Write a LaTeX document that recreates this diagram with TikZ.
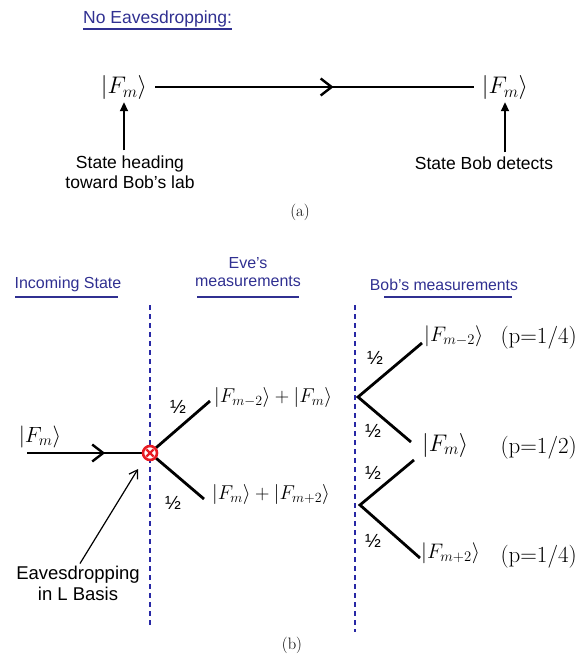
\RequirePackage{fix-cm}
\documentclass[tikz,border=0pt]{standalone}
\usepackage{fontspec}
\setsansfont{Liberation Sans}
\usetikzlibrary{arrows.meta,decorations.markings}
\definecolor{hdblue}{RGB}{48,48,145}
\definecolor{dashblue}{RGB}{40,40,165}
\definecolor{xred}{RGB}{232,28,36}
\begin{document}
\begin{tikzpicture}[x=1pt,y=-1pt,
  lbl/.style={font=\fontsize{17.5}{20}\selectfont\sffamily, text=black, inner sep=0, align=center},
  head/.style={font=\fontsize{16}{18.5}\selectfont\sffamily, text=hdblue, inner sep=0, align=center},
  uline/.style={hdblue, line width=1.4pt},
  kt/.style={inner sep=0, font=\fontsize{#1}{#1}\selectfont},
  prob/.style={inner sep=0, font=\fontsize{23}{23}\selectfont},
  half/.style={inner sep=0, font=\fontsize{19}{19}\selectfont\sffamily},
  captxt/.style={inner sep=0, font=\fontsize{16.5}{16.5}\selectfont},
  bline/.style={line width=2.8pt, black},
  midarrow/.style={postaction={decorate}, decoration={markings,
      mark=at position #1 with {\arrow{Straight Barb[length=11pt,width=17pt,line width=2.4pt]}}}},
  uparr/.style={line width=1.8pt, -{Triangle[length=9pt,width=8pt]}},
  thinarr/.style={line width=1.2pt, -{Straight Barb[length=8pt,width=10pt]}},
  vdash/.style={dashblue, line width=2.6pt, dash pattern=on 5pt off 4pt},
]
\path[use as bounding box] (0,0) rectangle (583,666);

% ---------- (a) ----------
\node[head, font=\fontsize{17.5}{19}\selectfont\sffamily, anchor=base west] (noe) at (83,24) {No Eavesdropping:};
\draw[uline] ([yshift=-5pt]noe.base west) -- ([yshift=-5pt]noe.base east);

\node[kt=24] (k1) at (124,88) {$|F_m\rangle$};
\node[kt=24] (k2) at (505,88) {$|F_m\rangle$};
\draw[bline, midarrow=0.56] ([xshift=8pt,yshift=1pt]k1.east) -- ([xshift=-8pt,yshift=1pt]k2.west);

\node[lbl] (t1) at (130,172) {State heading\\toward Bob's lab};
\node[lbl] (t2) at (484,163) {State Bob detects};
\draw[uparr] ([yshift=5pt]t1.north -| k1.south) -- ([yshift=-2pt]k1.south);
\draw[uparr] ([yshift=4pt]t2.north -| k2.south) -- ([yshift=-2pt]k2.south);

\node[captxt] (ca) at (300,212) {(a)};

% ---------- (b) ----------
\node[head] (hin) at (68,284) {Incoming State};
\draw[uline] (15,297) -- (118,297);
\node[head] (hev) at (248,272) {Eve's\\measurements};
\draw[uline] (197,297) -- (299,297);
\node[head, font=\fontsize{15.8}{18}\selectfont\sffamily] (hbo) at (444,285) {Bob's measurements};
\draw[uline] (384,297) -- (512,297);

\draw[vdash] (150,305) -- (150,626);
\draw[vdash] (355,305) -- (355,632);

% incoming
\node[kt=22] (kin) at (40,437) {$|F_m\rangle$};
\coordinate (inst) at (27,453);
\node[line width=2.6pt, circle, minimum size=13.5pt, inner sep=0] (ev) at (150,453) {};
\draw[bline, midarrow=0.68] (inst) -- (ev.west);

% Eve branches
\coordinate (eu) at (210,401);
\coordinate (ed) at (204,499);
\draw[bline] (ev) -- (eu);
\draw[bline] (ev) -- (ed);
\draw[xred, line width=2.6pt, fill=white] (ev.center) circle[radius=7pt];
\draw[xred, line width=2.2pt] ([shift={(-3.6pt,-3.6pt)}]ev.center) -- ([shift={(3.6pt,3.6pt)}]ev.center);
\draw[xred, line width=2.2pt] ([shift={(-3.6pt,3.6pt)}]ev.center) -- ([shift={(3.6pt,-3.6pt)}]ev.center);
\node[half] (h1) at (178,407) {½};
\node[half] (h2) at (173,503) {½};
\node[kt=20, anchor=west] (e1) at (214,397) {$|F_{m-2}\rangle+|F_m\rangle$};
\node[kt=20, anchor=west] (e2) at (212,494) {$|F_m\rangle+|F_{m+2}\rangle$};

% eavesdropping arrow
\node[lbl, font=\fontsize{18.5}{21}\selectfont\sffamily] (eav) at (78,583) {Eavesdropping\\in L Basis};
\coordinate (eavtip) at (138,469);
\draw[thinarr] ([xshift=2pt,yshift=2pt]eav.north) -- (eavtip);

% Bob forks
\coordinate (bu) at (358,397);
\coordinate (bd) at (360,505);
\coordinate (bu1) at (422,343);
\coordinate (bu2) at (411,442);
\coordinate (bd1) at (414,460);
\coordinate (bd2) at (420,558);
\draw[bline] (bu1) -- (bu) -- (bu2);
\draw[bline] (bd1) -- (bd) -- (bd2);
\node[half] (h3) at (375,358) {½};
\node[half] (h4) at (373,431) {½};
\node[half] (h5) at (373,473) {½};
\node[half] (h6) at (373,541) {½};

\node[kt=21, anchor=west] (b1) at (424,336) {$|F_{m-2}\rangle$};
\node[kt=24, anchor=west] (b2) at (422,445) {$|F_m\rangle$};
\node[kt=21, anchor=west] (b3) at (421,553) {$|F_{m+2}\rangle$};
\node[prob, anchor=base east] (p1) at (577,343) {(p=1/4)};
\node[prob, anchor=base east] (p2) at (577,453) {(p=1/2)};
\node[prob, anchor=base east] (p3) at (577,562) {(p=1/4)};

\node[captxt] (cb) at (292,645) {(b)};
\end{tikzpicture}
\end{document}
